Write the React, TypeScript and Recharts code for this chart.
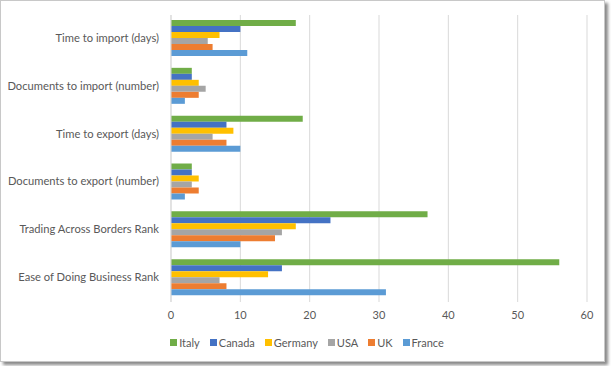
import { BarChart, Bar, XAxis, YAxis, CartesianGrid, Legend } from "recharts";

const categories = [
  "Time to import (days)",
  "Documents to import (number)",
  "Time to export (days)",
  "Documents to export (number)",
  "Trading Across Borders Rank",
  "Ease of Doing Business Rank",
];

const italy = [18, 3, 19, 3, 37, 56];
const canada = [10, 3, 8, 3, 23, 16];
const germany = [7, 4, 9, 4, 18, 14];
const usa = [5.3, 5, 6, 3, 16, 7];
const uk = [6, 4, 8, 4, 15, 8];
const france = [11, 2, 10, 2, 10, 31];

const xTicks = [0, 10, 20, 30, 40, 50, 60];

const series = [
  { key: "Italy", color: "#70AD47" },
  { key: "Canada", color: "#4472C4" },
  { key: "Germany", color: "#FFC000" },
  { key: "USA", color: "#A5A5A5" },
  { key: "UK", color: "#ED7D31" },
  { key: "France", color: "#5B9BD5" },
];

const data = categories.map((name, i) => ({
  name,
  Italy: italy[i],
  Canada: canada[i],
  Germany: germany[i],
  USA: usa[i],
  UK: uk[i],
  France: france[i],
}));

const font = "Lato, 'Liberation Sans', sans-serif";

function CategoryTick(props: any) {
  const { x, y, payload } = props;
  return (
    <text x={x} y={y} dy={3} textAnchor="end" fill="#595959" fontSize={11.2} fontFamily={font}>
      {payload.value}
    </text>
  );
}

// Excel-style legend: small squares, tight spacing, series order kept
function LegendRow() {
  return (
    <div
      style={{
        display: "flex",
        justifyContent: "center",
        alignItems: "center",
        gap: 10,
        fontSize: 11,
        fontFamily: font,
        color: "#595959",
        paddingLeft: 26,
      }}
    >
      {series.map((s) => (
        <span key={s.key} style={{ display: "flex", alignItems: "center" }}>
          <span style={{ width: 7, height: 7, background: s.color, marginRight: 2 }} />
          {s.key}
        </span>
      ))}
    </div>
  );
}

export default function App() {
  return (
    <div
      style={{
        position: "absolute",
        left: 0,
        top: 0,
        width: 603,
        height: 360,
        border: "1px solid #c8c8c8",
        boxShadow: "3px 3px 3px #8a8a8a",
        background: "#fff",
        fontFamily: font,
      }}
    >
      <BarChart
        width={603}
        height={360}
        data={data}
        layout="vertical"
        margin={{ top: 14, right: 17, left: 0, bottom: 5 }}
        barCategoryGap={5}
        barGap={0}
      >
        <CartesianGrid horizontal={false} stroke="#d9d9d9" />
        <XAxis
          type="number"
          domain={[0, 60]}
          ticks={xTicks}
          axisLine={false}
          tickLine={false}
          tickSize={0}
          tickMargin={9}
          height={34}
          tick={{ fill: "#595959", fontSize: 11, fontFamily: font }}
        />
        <YAxis
          type="category"
          dataKey="name"
          width={170}
          axisLine={{ stroke: "#d9d9d9" }}
          tickLine={false}
          tickSize={0}
          tickMargin={12}
          tick={<CategoryTick />}
        />
        <Legend verticalAlign="bottom" align="center" height={20} content={<LegendRow />} />
        {series.map((s) => (
          <Bar key={s.key} dataKey={s.key} fill={s.color} isAnimationActive={false} />
        ))}
      </BarChart>
    </div>
  );
}
